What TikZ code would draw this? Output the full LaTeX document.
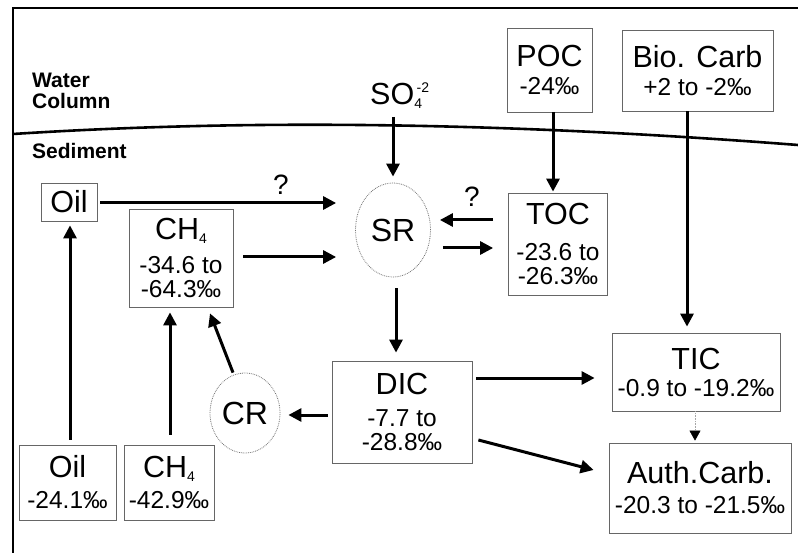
\documentclass[tikz,border=0pt]{standalone}
\usepackage{fontspec}
\setmainfont{Liberation Sans}
\usetikzlibrary{arrows.meta,calc,shapes.geometric}
\newcommand{\tfont}{\fontsize{30.5}{30}\selectfont}
\newcommand{\nfont}{\fontsize{24.5}{24}\selectfont}
\newcommand{\lfont}{\fontsize{21}{21}\selectfont\bfseries}
\newcommand{\lowfour}{\raisebox{-4pt}{\fontsize{14}{14}\selectfont 4}}
\begin{document}
\begin{tikzpicture}[x=1pt,y=-1pt,
  box/.style={draw=black!60, line width=0.8pt, align=center, inner sep=0pt, font=\nfont},
  circ/.style={ellipse, draw=black!55, line width=0.8pt, densely dotted, inner sep=0pt, font=\fontsize{32}{32}\selectfont},
  arr/.style={line width=3pt, -{Triangle[length=13pt,width=13pt]}},
  lbl/.style={font=\lfont, align=left, anchor=west, inner sep=0pt},
  qm/.style={font=\fontsize{28}{28}\selectfont, inner sep=0pt}
]
\useasboundingbox (0,0) rectangle (798,553);

% frame
\draw[line width=2pt] (798,8) -- (12.3,8);
\draw[line width=1.5pt] (13,7.5) -- (13,553);
% water / sediment boundary
\draw[line width=2.6pt] (13,134) .. controls (200,122) and (450,118) .. (798,145);

\node[lbl] (wc) at (32,91) {Water\\Column};
\node[lbl] (sed) at (32,151) {Sediment};

% nodes
\node[box, minimum width=56, minimum height=38] (oilA) at (69,202) {\tfont Oil};
\node[box, minimum width=104, minimum height=98] (ch4A) at (181,258) {{\tfont CH\lowfour}\\[10pt]-34.6 to\\-64.3‰};
\node[circ, minimum width=75, minimum height=94] (sr) at (393,230) {SR};
\node[anchor=base west, inner sep=0pt, font=\tfont] (so4) at (370,105) {SO\rlap{\raisebox{-4pt}{\fontsize{14}{14}\selectfont 4}}\raisebox{12pt}{\fontsize{14}{14}\selectfont\,-2}};
\node[box, minimum width=85, minimum height=84] (poc) at (549.5,70) {{\tfont POC}\\[4pt]-24‰};
\node[box, minimum width=151, minimum height=81] (bio) at (697.5,70.5) {{\tfont Bio. Carb}\\[4pt]+2 to -2‰};
\node[box, minimum width=99, minimum height=102] (toc) at (558,244) {{\tfont TOC}\\[12pt]-23.6 to\\-26.3‰};
\node[box, minimum width=140, minimum height=102] (dic) at (402,412) {{\tfont DIC}\\[8pt]-7.7 to\\-28.8‰};
\node[circ, minimum width=70, minimum height=80] (cr) at (245,413) {CR};
\node[box, minimum width=168, minimum height=78] (tic) at (696,372) {{\tfont TIC}\\[3pt]-0.9 to -19.2‰};
\node[box, minimum width=182, minimum height=90] (auth) at (700,488) {{\tfont Auth.Carb.}\\[6pt]-20.3 to -21.5‰};
\node[box, minimum width=97, minimum height=75] (oilB) at (67.5,482.5) {{\tfont Oil}\\[7pt]-24.1‰};
\node[box, minimum width=90, minimum height=75] (ch4B) at (169,482.5) {{\tfont CH\lowfour}\\[7pt]-42.9‰};

\node[qm] (q1) at (281,185) {?};
\node[qm] (q2) at (472,197) {?};

% connectors
\draw[arr] ($(oilA.east)+(3,1)$) -- ($(sr.west |- oilA.east)+(-19,1)$);
\draw[arr] ($(ch4A.east)+(10,-1)$) -- ($(sr.west |- ch4A.east)+(-19,-1)$);
\draw[arr] ($(toc.west)+(-15,-24)$) -- ($(sr.east |- toc.west)+(9,-24)$);
\draw[arr] ($(sr.east |- toc.west)+(12,4)$) -- ($(toc.west)+(-15,4)$);
\draw[arr] ($(sr.north |- so4.base)+(0,12)$) -- ($(sr.north)+(0,-6)$);
\draw[arr] ($(poc.south)+(3.5,0)$) -- ($(poc.south |- toc.north)+(3.5,-1)$);
\draw[arr] ($(bio.south)+(-10.5,0)$) -- ($(bio.south |- tic.north)+(-10.5,-6)$);
\draw[line width=0.6pt, black!35, densely dotted, -{Triangle[length=10pt,width=11pt,color=black]}] ($(tic.south)+(-1,0)$) -- ($(tic.south |- auth.north)+(-1,-2)$);
\draw[arr] ($(sr.south)+(3,11)$) -- ($(sr.south |- dic.north)+(3,-8)$);
\draw[arr] ($(dic.east)+(4,-34)$) -- ($(tic.west)+(-17,6)$);
\draw[arr] ($(dic.east)+(6,28)$) -- ($(auth.west)+(-15,-18)$);
\draw[arr] ($(dic.west)+(-4,3)$) -- ($(cr.east)+(8,2)$);
\draw[arr] ($(cr.north)+(-12,0)$) -- ($(ch4A.south)+(29,6)$);
\draw[arr] ($(ch4B.north)+(1,-10)$) -- ($(ch4B.north |- ch4A.south)+(1,5)$);
\draw[arr] ($(oilB.north)+(2.5,-5)$) -- ($(oilB.north |- oilA.south)+(2.5,4)$);
\end{tikzpicture}
\end{document}
